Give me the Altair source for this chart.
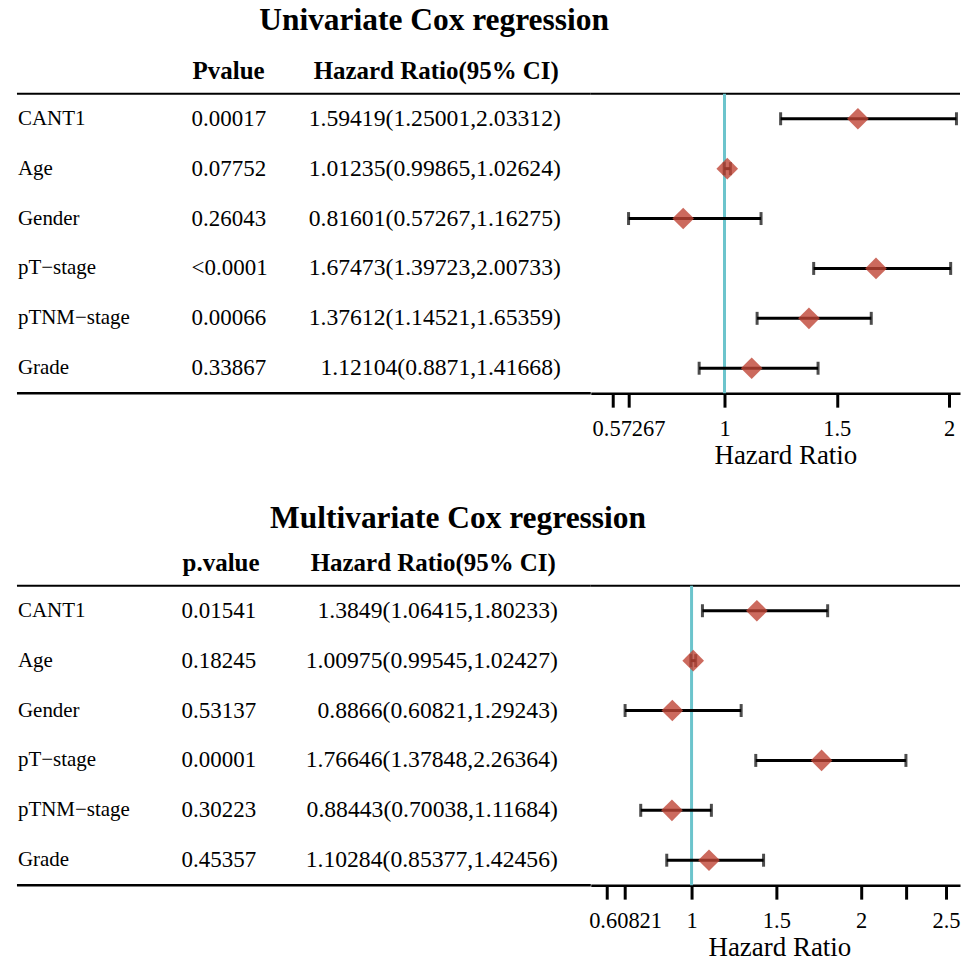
import altair as alt
import pandas as pd

FONT = "Liberation Serif"
CYAN = "#6cc4cc"
DIAMOND = "#bf4536"

variables = ["CANT1", "Age", "Gender", "pT−stage", "pTNM−stage", "Grade"]

uni_p = ["0.00017", "0.07752", "0.26043", "<0.0001", "0.00066", "0.33867"]
uni_hr = [1.59419, 1.01235, 0.81601, 1.67473, 1.37612, 1.12104]
uni_lo = [1.25001, 0.99865, 0.57267, 1.39723, 1.14521, 0.8871]
uni_hi = [2.03312, 1.02624, 1.16275, 2.00733, 1.65359, 1.41668]
uni_ticks = [0.5, 0.57267, 1, 1.5, 2]
uni_unlabeled = [0.5]

multi_p = ["0.01541", "0.18245", "0.53137", "0.00001", "0.30223", "0.45357"]
multi_hr = [1.3849, 1.00975, 0.8866, 1.76646, 0.88443, 1.10284]
multi_lo = [1.06415, 0.99545, 0.60821, 1.37848, 0.70038, 0.85377]
multi_hi = [1.80233, 1.02427, 1.29243, 2.26364, 1.11684, 1.42456]
multi_ticks = [0.5, 0.60821, 1, 1.5, 2, 2.26364, 2.5]
multi_unlabeled = [0.5, 2.26364]

TW, FW, H = 575, 370, 350


def panel(title, ptitle, pvals, hr, lo, hi, ticks, unlabeled, dom,
          title_x, title_y, p_x, hr_x, axis_title_x):
    df = pd.DataFrame({
        "var": variables, "p": pvals, "hr": hr, "lo": lo, "hi": hi,
        "txt": [f"{a!r}({b!r},{c!r})" for a, b, c in zip(hr, lo, hi)],
    })
    ysc = alt.Scale(domain=[" "] + variables, paddingInner=0, paddingOuter=0)
    Y = alt.Y("var:N", scale=ysc, axis=None)
    base = alt.Chart(df)
    one = alt.Chart(pd.DataFrame({"one": [1]}))

    txt = dict(font=FONT, color="black", baseline="middle")
    labels = base.mark_text(align="left", fontSize=21, **txt).encode(
        x=alt.value(1), y=Y, text="var:N")
    pcol = base.mark_text(align="left", fontSize=23, **txt).encode(
        x=alt.value(p_x), y=Y, text="p:N")
    hcol = base.mark_text(align="right", fontSize=23.7, **txt).encode(
        x=alt.value(hr_x), y=Y, text="txt:N")
    ttl = alt.Chart(pd.DataFrame({"t": [title]})).mark_text(
        fontSize=31.5, fontWeight="bold", font=FONT, color="black",
        align="center", baseline="middle").encode(
        x=alt.value(title_x), y=alt.value(title_y), text="t:N")
    hdr = dict(fontSize=25, fontWeight="bold", font=FONT, color="black",
               baseline="middle")
    h1 = alt.Chart(pd.DataFrame({"t": [ptitle]})).mark_text(
        align="left", **hdr).encode(x=alt.value(p_x + 1), y=alt.value(27), text="t:N")
    h2 = alt.Chart(pd.DataFrame({"t": ["Hazard Ratio(95% CI)"]})).mark_text(
        align="right", **hdr).encode(x=alt.value(hr_x - 2), y=alt.value(27), text="t:N")
    tline = one.mark_rule(color="black", strokeWidth=2).encode(
        x=alt.value(0), x2=alt.value(TW), y=alt.value(50))
    bline = one.mark_rule(color="black", strokeWidth=2.5).encode(
        x=alt.value(0), x2=alt.value(TW), y=alt.value(H))
    table = alt.layer(tline, bline, labels, pcol, hcol, ttl, h1, h2).properties(
        width=TW, height=H)

    xs = alt.Scale(domain=dom, nice=False, zero=False)
    hidden = ",".join(repr(v) for v in unlabeled)
    ax = alt.Axis(
        values=ticks, format=".6~g",
        labelExpr=f"indexof([{hidden}], datum.value) >= 0 ? '' : datum.label",
        labelOverlap=False, labelFlush=False, grid=False,
        tickSize=14, tickWidth=3, tickColor="black",
        domainColor="black", domainWidth=2.5,
        labelFontSize=22.5, labelFont=FONT, labelColor="black", labelPadding=10,
        title="Hazard Ratio", titleFontSize=27, titleFont=FONT,
        titleFontWeight="normal", titleColor="black", titlePadding=3,
        titleX=axis_title_x)

    ftop = one.mark_rule(color="black", strokeWidth=2).encode(
        x=alt.value(0), x2=alt.value(FW), y=alt.value(50))
    vline = one.mark_rule(color=CYAN, strokeWidth=3).encode(
        x=alt.X("one:Q", scale=xs, axis=ax), y=alt.value(50), y2=alt.value(H))
    ci = base.mark_rule(color="black", strokeWidth=3).encode(
        x=alt.X("lo:Q", scale=xs, axis=ax), x2="hi:Q", y=Y)
    cap_lo = base.mark_tick(color="black", thickness=3, size=13).encode(
        x=alt.X("lo:Q", scale=xs, axis=ax), y=Y)
    cap_hi = base.mark_tick(color="black", thickness=3, size=13).encode(
        x=alt.X("hi:Q", scale=xs, axis=ax), y=Y)
    dia = base.mark_point(shape="diamond", filled=True, size=470,
                          color=DIAMOND, opacity=0.8, strokeWidth=0).encode(
        x=alt.X("hr:Q", scale=xs, axis=ax), y=Y)
    forest = alt.layer(ftop, vline, ci, cap_lo, cap_hi, dia).properties(
        width=FW, height=H)
    return table, forest


t1, f1 = panel("Univariate Cox regression", "Pvalue", uni_p, uni_hr, uni_lo,
               uni_hi, uni_ticks, uni_unlabeled, [0.4044, 2.0489],
               418, -23, 175, 545, 195)
t2, f2 = panel("Multivariate Cox regression", "p.value", multi_p, multi_hr,
               multi_lo, multi_hi, multi_ticks, multi_unlabeled,
               [0.4059, 2.5824], 442, -17, 165, 542, 189)

chart = alt.concat(
    t1, f1, t2, f2, columns=2, spacing={"row": 143, "column": 0}, bounds="flush"
).properties(
    padding={"left": 15, "top": 4, "right": 0, "bottom": 0},
    background="white",
).configure_view(stroke=None)

chart.save("out.html", embed_options={"renderer": "svg", "actions": False})
